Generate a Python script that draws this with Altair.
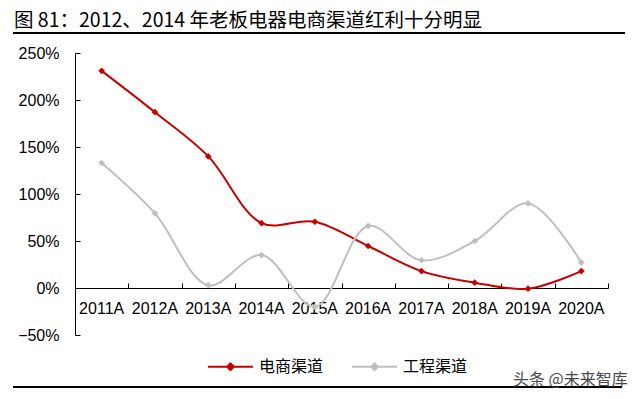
import altair as alt
import pandas as pd

years = ['2011A', '2012A', '2013A', '2014A', '2015A', '2016A', '2017A', '2018A', '2019A', '2020A']
ecommerce = [2.31, 1.87, 1.40, 0.69, 0.705, 0.447, 0.18, 0.057, -0.007, 0.18]
engineering = [1.33, 0.794, 0.03, 0.35, -0.20, 0.66, 0.295, 0.50, 0.90, 0.27]
series_names = ['电商渠道', '工程渠道']
series_colors = ['#C80000', '#BFBFBF']
y_ticks = [-0.5, 0, 0.5, 1.0, 1.5, 2.0, 2.5]
title_text = '图 81：2012、2014 年老板电器电商渠道红利十分明显'
watermark = '头条 @未来智库'

rows = []
for name, vals in zip(series_names, [ecommerce, engineering]):
    for yr, v in zip(years, vals):
        rows.append({'year': yr, 'value': v, 'series': name})
df = pd.DataFrame(rows)

W, H = 533, 282
FONT = 'Liberation Sans, Arial, Noto Sans CJK SC'
CJK = 'Noto Sans CJK SC, Liberation Sans'

xscale = alt.Scale(type='band', domain=years, paddingInner=0, paddingOuter=0)
yscale = alt.Scale(domain=[-0.5, 2.5], nice=False, zero=False)
cscale = alt.Scale(domain=series_names, range=series_colors)

legend = alt.Legend(
    title=None, orient='none', legendX=132, legendY=290, direction='horizontal',
    symbolType='M-1,0H1M0,-0.15L0.15,0L0,0.15L-0.15,0Z', symbolSize=2025,
    symbolStrokeWidth=2, labelFont=CJK, labelFontSize=16, labelColor='#000000',
    columnPadding=24, labelOffset=5, padding=0
)

x_main = alt.X('year:N', sort=years, scale=xscale, title=None,
               axis=alt.Axis(orient='bottom', offset=-47, ticks=False, domainColor='#000000',
                             domainWidth=1, labelAngle=0, labelFont=FONT, labelFontSize=16,
                             labelColor='#000000', labelPadding=12, grid=False))
y_main = alt.Y('value:Q', scale=yscale, title=None,
               axis=alt.Axis(orient='left', values=y_ticks, format='.0%', ticks=False,
                             domainColor='#000000', domainWidth=1, labelFont=FONT,
                             labelFontSize=16, labelColor='#000000', labelPadding=16, grid=False))

lines = alt.Chart(df).mark_line(interpolate='catmull-rom', strokeWidth=2).encode(
    x=x_main, y=y_main,
    color=alt.Color('series:N', scale=cscale, legend=legend)
)
points = alt.Chart(df).mark_point(shape='diamond', filled=True, size=45, opacity=1).encode(
    x=alt.X('year:N', sort=years, scale=xscale, axis=None),
    y=alt.Y('value:Q', scale=yscale, axis=None),
    color=alt.Color('series:N', scale=cscale, legend=None)
)

tick_layer = alt.Chart(df).mark_point(opacity=0).encode(
    x=alt.X('year:N', sort=years, scale=xscale, title=None,
            axis=alt.Axis(orient='top', offset=-(H - 47), labels=False, domain=False,
                          ticks=True, tickSize=5, tickColor='#000000', tickBand='extent',
                          grid=False)),
    y=alt.Y('value:Q', scale=yscale, title=None,
            axis=alt.Axis(orient='right', offset=-W, values=y_ticks, labels=False,
                          domain=False, ticks=True, tickSize=5, tickColor='#000000',
                          grid=False))
)

deco = pd.DataFrame({'k': [0]})
top_rule = alt.Chart(deco).mark_rule(color='#000000', strokeWidth=2).encode(
    x=alt.value(-62), x2=alt.value(550), y=alt.value(-20)
)
bottom_rule = alt.Chart(deco).mark_rule(color='#000000', strokeWidth=2).encode(
    x=alt.value(-62), x2=alt.value(547), y=alt.value(334)
)
wm = alt.Chart(pd.DataFrame({'t': [watermark]})).mark_text(
    align='left', baseline='middle', font=CJK, fontSize=16, color='#4a4a4a'
).encode(x=alt.value(438), y=alt.value(327), text='t:N')
ttl = alt.Chart(pd.DataFrame({'t': [title_text]})).mark_text(
    align='left', baseline='alphabetic', font=CJK, fontSize=19.5, color='#000000'
).encode(x=alt.value(-61), y=alt.value(-26), text='t:N')

chart = alt.layer(lines, points, tick_layer, top_rule, bottom_rule, wm, ttl).resolve_axis(
    x='independent', y='independent'
).properties(
    width=W, height=H,
    autosize=alt.AutoSizeParams(type='none'),
    padding={'left': 67, 'top': 45, 'right': 24, 'bottom': 56}
).configure_view(stroke=None)

chart.save('out.html', embed_options={'renderer': 'svg', 'actions': False})
